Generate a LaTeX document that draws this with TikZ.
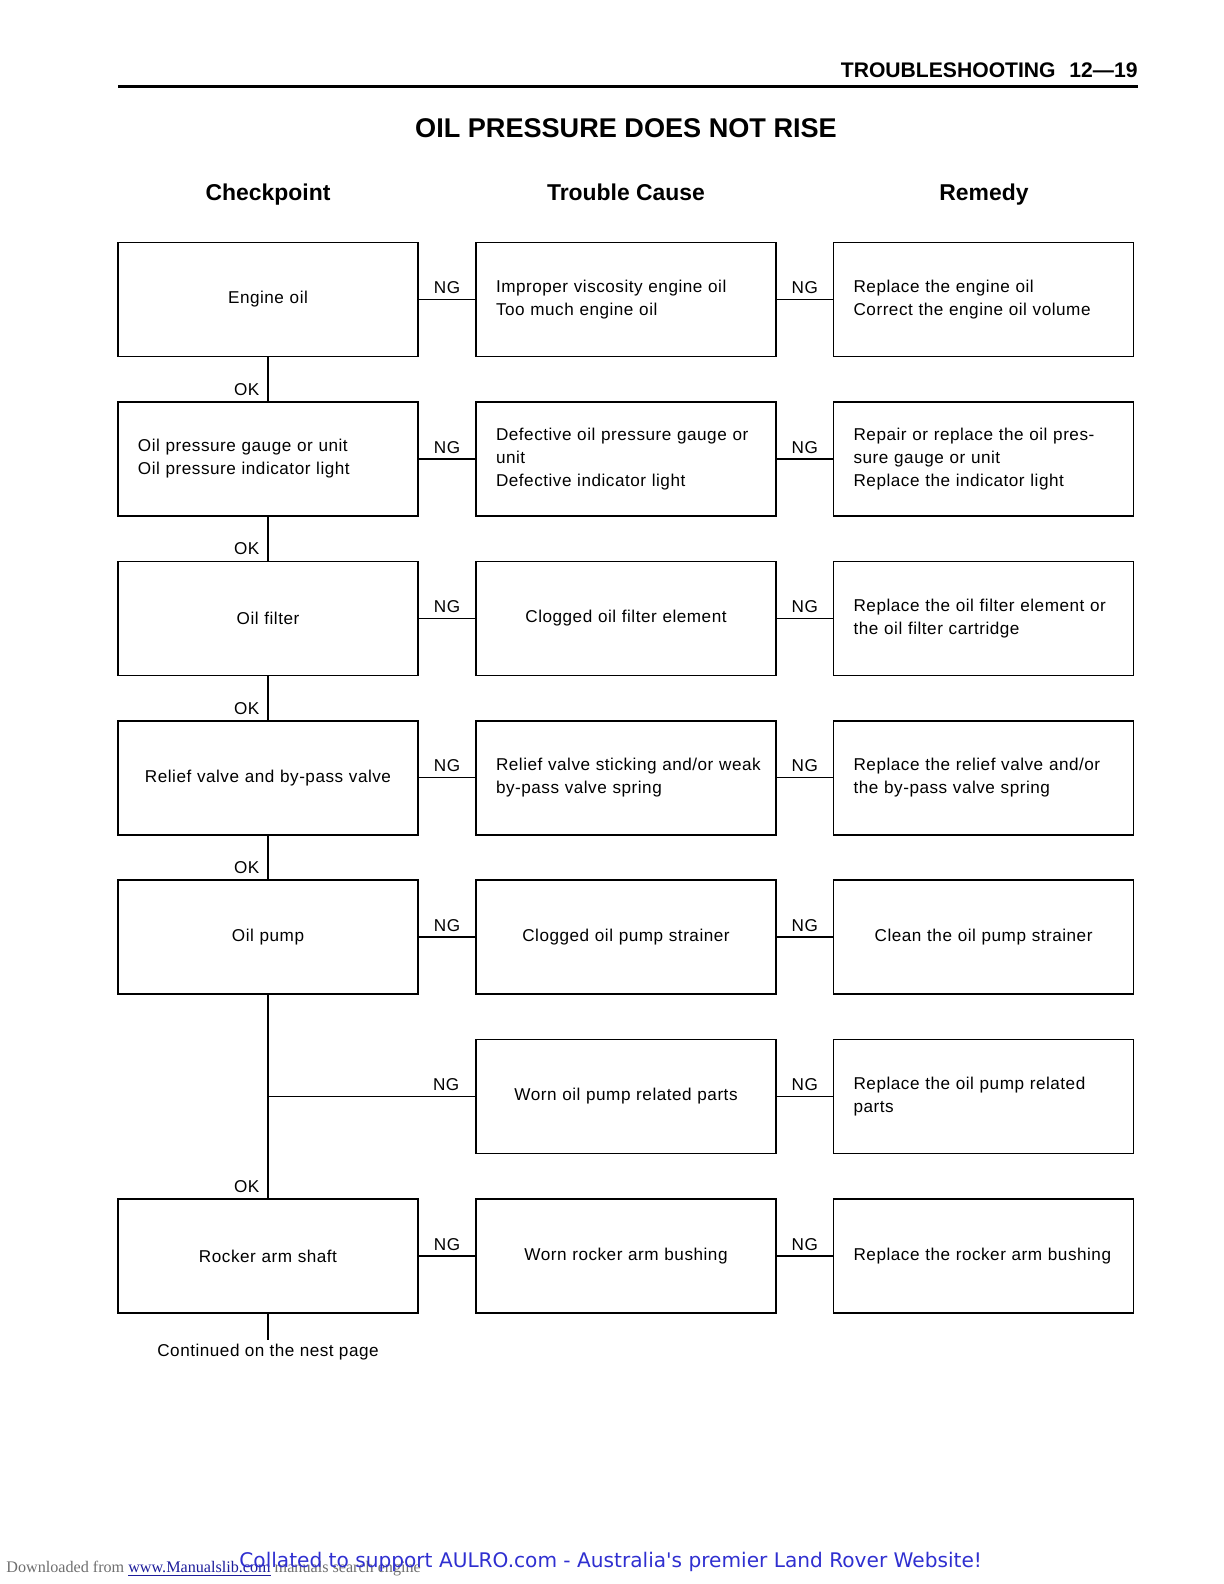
\documentclass[tikz,border=0pt]{standalone}
\usepackage{fontspec}
\setmainfont{Liberation Sans}
\newfontfamily\bodyfont{Liberation Sans}[LetterSpace=3]
\newfontfamily\dejavu{DejaVu Sans}
\newfontfamily\libserif{Liberation Serif}
\usepackage{xcolor}
\usepackage{tikz}
\usetikzlibrary{positioning}
\definecolor{ftblue}{HTML}{2F2FD0}
\definecolor{ftlink}{HTML}{1C1C9A}
\definecolor{ftgray}{HTML}{6E6E6E}

\begin{document}
\begin{tikzpicture}[x=0.5bp,y=-0.5bp,
  font=\bodyfont\fontsize{8.6}{11.5}\selectfont,
  box/.style={draw,line width=0.8pt,minimum height=57bp,text width=146bp,
              inner xsep=2bp,inner ysep=3bp,align=center},
  lbox/.style={box,align=left,execute at begin node={\leftskip=8bp\relax}},
  ln/.style={line width=0.7pt},
  ng/.style={above,inner sep=2.5bp},
  ok/.style={pos=1,above left,inner xsep=4bp,inner ysep=2.5bp},
  colhead/.style={anchor=base,inner sep=0pt,font=\bfseries\fontsize{11.5}{13}\selectfont}
]
\useasboundingbox (0,0) rectangle (1224,1584);

\node[anchor=base east,inner sep=0pt,font=\bfseries\fontsize{10.6}{12}\selectfont]
  (pagehead) at (1138,77) {TROUBLESHOOTING\hspace{4bp} 12—19};
\draw[line width=1.5bp] (118,86) -- (1138,86);
\node[anchor=base,inner sep=0pt,font=\bfseries\fontsize{13.6}{16}\selectfont]
  (title) at (626,137) {OIL PRESSURE DOES NOT RISE};
\node[colhead] (hcheck) at (268,200) {Checkpoint};
\node[colhead] (hcause) at (626,200) {Trouble Cause};
\node[colhead] (hremedy) at (984,200) {Remedy};

% checkpoint / cause / remedy rows
\node[box] (check1) at (268,299.5) {Engine oil};
\node[lbox,right=28.2bp of check1] (cause1) {Improper viscosity engine oil\\Too much engine oil};
\node[lbox,right=28bp of cause1] (remedy1) {Replace the engine oil\\Correct the engine oil volume};

\node[lbox,below=21.9bp of check1] (check2) {Oil pressure gauge or unit\\Oil pressure indicator light};
\node[lbox,right=28.2bp of check2] (cause2) {Defective oil pressure gauge or\\unit\\Defective indicator light};
\node[lbox,right=28bp of cause2] (remedy2) {Repair or replace the oil pres-\\sure gauge or unit\\Replace the indicator light};

\node[box,below=21.9bp of check2] (check3) {Oil filter};
\node[box,right=28.2bp of check3] (cause3) {Clogged oil filter element};
\node[lbox,right=28bp of cause3] (remedy3) {Replace the oil filter element or\\the oil filter cartridge};

\node[box,below=21.9bp of check3] (check4) {Relief valve and by-pass valve};
\node[lbox,right=28.2bp of check4] (cause4) {Relief valve sticking and/or weak\\by-pass valve spring};
\node[lbox,right=28bp of cause4] (remedy4) {Replace the relief valve and/or\\the by-pass valve spring};

\node[box,below=21.9bp of check4] (check5) {Oil pump};
\node[box,right=28.2bp of check5] (cause5) {Clogged oil pump strainer};
\node[box,right=28bp of cause5] (remedy5) {Clean the oil pump strainer};

\node[box,below=21.9bp of cause5] (cause6) {Worn oil pump related parts};
\node[lbox,right=28bp of cause6] (remedy6) {Replace the oil pump related\\parts};

\node[box,below=21.9bp of cause6] (cause7) {Worn rocker arm bushing};
\node[box,left=28.2bp of cause7] (check7) {Rocker arm shaft};
\node[lbox,right=28bp of cause7] (remedy7) {Replace the rocker arm bushing};

\node[anchor=north,inner sep=2bp] (contd) at ([yshift=-13bp]check7.south) {Continued on the nest page};
\coordinate (fork) at (check5.south |- cause6.west);

\foreach \r in {1,2,3,4,5,7}{
  \draw[ln] (check\r) -- (cause\r) node[midway,ng] {NG};
}
\foreach \r in {1,...,7}{
  \draw[ln] (cause\r) -- (remedy\r) node[midway,ng] {NG};
}
\draw[ln] (fork) -- (cause6) node[pos=0.86,ng] {NG};
\draw[ln] (check1) -- (check2) node[ok] {OK};
\draw[ln] (check2) -- (check3) node[ok] {OK};
\draw[ln] (check3) -- (check4) node[ok] {OK};
\draw[ln] (check4) -- (check5) node[ok] {OK};
\draw[ln] (check5) -- (check7) node[ok] {OK};
\draw[ln] (check7) -- (contd);

% footer
\node[anchor=base west,inner sep=0pt,text=ftgray,font=\libserif\fontsize{8.1}{10}\selectfont]
  (source) at (6,1572) {Downloaded from \textcolor{ftlink}{\underline{www.Manualslib.com}} manuals search engine};
\node[anchor=base west,inner sep=0pt,text=ftblue,font=\dejavu\fontsize{10.1}{12}\selectfont]
  (notice) at (239,1567) {Collated to support AULRO.com - Australia's premier Land Rover Website!};
\end{tikzpicture}
\end{document}
